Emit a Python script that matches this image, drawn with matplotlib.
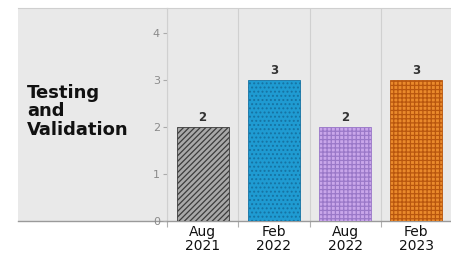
import matplotlib
matplotlib.use("Agg")
import matplotlib.pyplot as plt

# data
periods = ['Aug\n2021', 'Feb\n2022', 'Aug\n2022', 'Feb\n2023']
counts = [2, 3, 2, 3]
row_label = 'Testing\nand\nValidation'
yticks = [0, 1, 2, 3, 4]

# bar styles
faces = ['#a8a8a8', '#1f9bd2', '#c9a6ea', '#ea8a2c']
edges = ['#3c3c3c', '#1672a2', '#9a78c8', '#b8560e']
hatches = ['//////', '....', '++++', '++++']

bg = '#e9e9e9'
plt.rcParams['hatch.linewidth'] = 0.9

W, H = 452, 260
fig = plt.figure(figsize=(W / 100, H / 100), dpi=100, facecolor='white')

# left panel holding the row label
lab = fig.add_axes([18 / W, 39 / H, (167 - 18) / W, (252 - 39) / H])
lab.set_facecolor(bg)
lab.set_xticks([])
lab.set_yticks([])
for s in ['left', 'right']:
    lab.spines[s].set_visible(False)
lab.spines['top'].set_color('#cfcfcf')
lab.spines['top'].set_linewidth(0.8)
lab.spines['bottom'].set_color('#9a9a9a')
lab.spines['bottom'].set_linewidth(1.0)
lab.text(0.06, 0.515, row_label, transform=lab.transAxes, ha='left', va='center',
         fontsize=13, fontweight='bold', color='#111111', linespacing=1.05)

# main bar panel
ax = fig.add_axes([167 / W, 39 / H, (W - 167) / W, (252 - 39) / H])
ax.set_facecolor(bg)
x = range(len(periods))
for i, v in enumerate(counts):
    ax.bar(i, v, width=0.73, color=faces[i], edgecolor=edges[i], hatch=hatches[i],
           linewidth=0.6, zorder=3)
    ax.text(i, v + 0.06, str(v), ha='center', va='bottom', fontsize=8.5,
            fontweight='bold', color='#333333', zorder=4)

ax.set_xlim(-0.5, 3.5)
ax.set_ylim(0, 4.53)
ax.set_xticks(list(x))
ax.set_xticklabels(periods, fontsize=10, color='#111111', linespacing=0.95)
ax.set_xticks([-0.5, 0.5, 1.5, 2.5, 3.5], minor=True)
ax.tick_params(axis='x', which='major', length=0, pad=3)
ax.tick_params(axis='x', which='minor', length=4, color='#b0b0b0', width=0.8)
ax.set_yticks(yticks)
ax.tick_params(axis='y', length=3, color='#aaaaaa', width=0.8, labelsize=8,
               labelcolor='#8a8a8a', pad=2)
ax.grid(which='minor', axis='x', color='#d0d0d0', linewidth=0.8, zorder=0)
ax.grid(which='major', axis='x', visible=False)

ax.spines['right'].set_visible(False)
ax.spines['left'].set_color('#d0d0d0')
ax.spines['left'].set_linewidth(0.8)
ax.spines['top'].set_color('#cfcfcf')
ax.spines['top'].set_linewidth(0.8)
ax.spines['bottom'].set_color('#9a9a9a')
ax.spines['bottom'].set_linewidth(1.0)

fig.savefig('out.png', dpi=100)
